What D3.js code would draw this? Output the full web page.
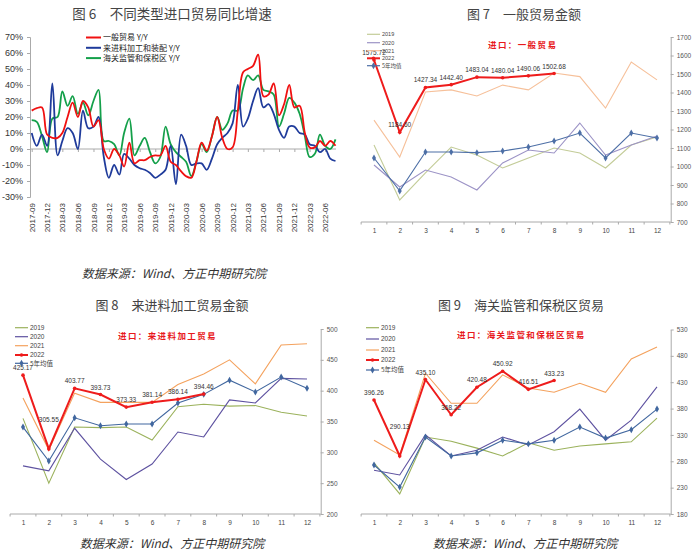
<!DOCTYPE html>
<html>
<head>
<meta charset="utf-8">
<script src="https://cdn.jsdelivr.net/npm/d3@7"></script>
<style>
  body { margin: 0; background: #fff; }
  svg { display: block; font-family: "Liberation Sans", Arial, sans-serif; }
  .cjk { font-family: "Noto Sans CJK SC", sans-serif; }
</style>
</head>
<body>
<svg id="chart" width="700" height="554"></svg>
<script>
// ---------- data: fig 6 (Y/Y %, monthly 2017-09 .. 2022-08)
const ticks6 = ["2017-09","2017-12","2018-03","2018-06","2018-09","2018-12","2019-03","2019-06","2019-09","2019-12",
  "2020-03","2020-06","2020-09","2020-12","2021-03","2021-06","2021-09","2021-12","2022-03","2022-06"];
const pctTicks = [-30, -20, -10, 0, 10, 20, 30, 40, 50, 60, 70];
const generalYoY = [24, 25.5, 26, 9, 7, 7, 10, 20, 29, 20,
  30, 26, 14, 18, 0, -6, 0, -4, -11, 4,
  -9, -7, -7, -5, -4, -4, 2, -8, -10, -14,
  -17, -18, -8, 4, -1, 8, 20, 7, 0, 1,
  24, 48, 50, 52, 59, 33, 34, 41, 21, 28,
  40, 26, 27, 10, 1, 1, 5, 2, 5, 2];
const processingYoY = [10, 2, 9, 2, 41, -4, 5, 13, 10, 0,
  24, 13, 14, 20, -5, -18, -10, -16, -3, -6,
  -10, -12, -13, -15, -18, -16, -13, 2, -22, 9,
  2, -10, -9, -9, -13, -6, 3, 7, 10, 16,
  40, 14, 19, 30, 38, 26, 28, 22, 12, 7,
  14, 14, 10, 9, 3, 2, -2, 0, -6, -7.5];
const bondedYoY = [18, 17, 8, -2, 19, 20, 36, 27, 33, 22,
  29, 21, 30, 37, 5, 5, 3, -4, 10, 19,
  -4, 2, 7, -2, -9, -5, 14, 3, -2, -5,
  -8, -17, -8, 3, -2, 8, 20, 12, 16, 24,
  24, 38, 46, 43, 46, 37, 36, 34, 14, 22,
  32, 29, 22, 8, -5, -3, 9, 2, 0, 6];
const legend6 = ["一般贸易 Y/Y", "来进料加工和装配  Y/Y", "海关监管和保税区  Y/Y"];

// ---------- data: fig 7-9 (monthly amounts)
const months = ["1","2","3","4","5","6","7","8","9","10","11","12"];
const seriesNames = ["2019", "2020", "2021", "2022", "5年均值"];

const gen2019 = [1116, 819, 965, 1105, 1062, 992, 1046, 1100, 1073, 992, 1116, 1160];
const gen2020 = [1008, 889, 981, 943, 873, 1019, 1089, 1073, 1235, 1062, 1116, 1165];
const gen2021 = [1251, 1051, 1403, 1414, 1381, 1440, 1414, 1505, 1486, 1316, 1565, 1468];
const gen2022 = [1575.72, 1184.60, 1427.34, 1442.40, 1483.04, 1480.04, 1490.06, 1502.68];
const genAvg  = [1046, 868, 1078, 1078, 1075, 1084, 1105, 1138, 1181, 1046, 1181, 1154];
const genTicks = [700, 800, 900, 1000, 1100, 1200, 1300, 1400, 1500, 1600, 1700];

const proc2019 = [355, 250, 341, 340, 341, 320, 374, 378, 375, 376, 365, 359];
const proc2020 = [278, 270, 339, 289, 256, 281, 333, 325, 385, 380, 420, 419];
const proc2021 = [388, 304, 396, 381, 381, 381, 410, 427, 450, 411, 474, 476];
const proc2022 = [425.17, 305.55, 403.77, 393.73, 373.33, 381.14, 386.14, 394.46];
const procAvg  = [341, 286, 356, 343, 346, 346, 380, 394, 417, 398, 422, 404];
const procTicks = [200, 250, 300, 350, 400, 450, 500];

const bond2019 = [277, 218, 326, 318, 305, 290, 315, 301, 309, 313, 317, 362];
const bond2020 = [263, 254, 330, 290, 301, 326, 311, 336, 379, 320, 358, 421];
const bond2021 = [320, 292, 447, 390, 390, 444, 419, 411, 428, 411, 474, 497];
const bond2022 = [396.26, 290.13, 435.10, 368.22, 420.48, 450.92, 416.51, 433.23];
const bondAvg  = [273, 231, 326, 290, 296, 320, 313, 320, 345, 324, 340, 379];
const bondTicks = [180, 230, 280, 330, 380, 430, 480, 530];

const sourceText = "数据来源：Wind、方正中期研究院";

const svg = d3.select("#chart");

// ---------- fig 6
const parseM = d3.timeParse("%Y-%m");
const months6 = d3.timeMonth.range(parseM("2017-09"), parseM("2022-09"));
const x6 = d3.scaleTime().domain([parseM("2017-09"), parseM("2022-08")]).range([31.7, 335.5]);
const y6 = d3.scaleLinear().domain([-30, 70]).range([197, 37]);
const g6 = svg.append("g");

g6.append("text").attr("class", "cjk").attr("x", 172).attr("y", 19)
  .attr("text-anchor", "middle").attr("font-size", 13.5).attr("fill", "#444")
  .text("图 6　不同类型进口贸易同比增速");

const ya6 = g6.append("g").attr("transform", "translate(30,0)")
  .call(d3.axisLeft(y6).tickValues(pctTicks).tickFormat(d => d + "%").tickSize(3).tickPadding(4));
ya6.selectAll("path,line").attr("stroke", "#aaa");
ya6.selectAll("text").attr("font-size", 9).attr("fill", "#333");

const tickDates = ticks6.map(parseM);
const xa6 = g6.append("g").attr("transform", `translate(0,${y6(0)})`)
  .call(d3.axisBottom(x6).tickValues(tickDates).tickSize(3).tickSizeOuter(0).tickFormat(""));
xa6.select(".domain").attr("d", `M30,0H336`);
xa6.selectAll("path,line").attr("stroke", "#aaa");

const xl6 = g6.append("g").attr("transform", "translate(0,203)")
  .call(d3.axisBottom(x6).tickValues(tickDates).tickSize(0).tickFormat(d3.timeFormat("%Y-%m")));
xl6.select(".domain").remove();
xl6.selectAll("text").attr("x", 0).attr("y", 0).attr("dy", "0.32em")
  .attr("transform", "rotate(-90)").style("text-anchor", "end")
  .attr("font-size", 8).attr("fill", "#333");

const yoySeries = [
  { vals: generalYoY, color: "#f01010" },
  { vals: processingYoY, color: "#1f3b9b" },
  { vals: bondedYoY, color: "#14a04a" }
];
const line6 = d3.line().x((d, i) => x6(months6[i])).y(d => y6(d)).curve(d3.curveCatmullRom.alpha(0.5));
[yoySeries[2], yoySeries[1], yoySeries[0]].forEach(s => {
  g6.append("path").datum(s.vals).attr("d", line6).attr("fill", "none")
    .attr("stroke", s.color).attr("stroke-width", 1.8);
});

legend6.forEach((t, i) => {
  const yy = 37.5 + i * 10.3;
  g6.append("line").attr("x1", 86).attr("x2", 101).attr("y1", yy).attr("y2", yy)
    .attr("stroke", yoySeries[i].color).attr("stroke-width", 2);
  g6.append("text").attr("class", "cjk").attr("x", 103).attr("y", yy).attr("dy", "0.35em")
    .attr("font-size", 8).attr("fill", "#222").text(t);
});

g6.append("text").attr("class", "cjk").attr("x", 174).attr("y", 278)
  .attr("text-anchor", "middle").attr("font-size", 12).attr("font-style", "italic")
  .attr("fill", "#333").text(sourceText);

// ---------- fig 7-9 panels
function panel(o) {
  const g = svg.append("g");
  const x = d3.scalePoint().domain(months).range(o.xRange);
  const step = x.step();
  const y = d3.scaleLinear().domain(o.yDomain).range(o.yRange);
  const base = o.yRange[0];
  const left = o.xRange[0] - step / 2;

  g.append("text").attr("class", "cjk").attr("x", o.titleX).attr("y", o.titleY)
    .attr("text-anchor", "middle").attr("font-size", 13).attr("fill", "#444").text(o.title);
  g.append("text").attr("class", "cjk").attr("x", o.subX).attr("y", o.subY)
    .attr("font-size", 8.5).attr("font-weight", "bold").attr("letter-spacing", 1.4)
    .attr("fill", "#e8191c").text(o.sub);

  // x axis
  const xa = g.append("g").attr("transform", `translate(0,${base})`)
    .call(d3.axisBottom(x).tickSize(0).tickPadding(6));
  xa.select(".domain").attr("d", `M${left},0H${o.axisX}`).attr("stroke", "#aaa");
  xa.selectAll("text").attr("font-size", 6.5).attr("fill", "#444");
  d3.range(months.length + 1).forEach(b => {
    const bx = left + b * step;
    g.append("line").attr("x1", bx).attr("x2", bx).attr("y1", base).attr("y2", base + 2.5)
      .attr("stroke", "#aaa");
  });

  // right axis
  const ya = g.append("g").attr("transform", `translate(${o.axisX},0)`)
    .call(d3.axisRight(y).tickValues(o.yTicks).tickFormat(d3.format("d"))
      .tickSize(3).tickPadding(3).tickSizeOuter(0));
  ya.selectAll("path,line").attr("stroke", "#aaa");
  ya.selectAll("text").attr("font-size", 6.5).attr("fill", "#555");

  const line = d3.line().x((d, i) => x(months[i])).y(d => y(d));
  const cols = o.colors;
  const order = [0, 1, 2, 4, 3];
  const data = [o.s2019, o.s2020, o.s2021, o.s2022, o.avg];
  order.forEach(k => {
    g.append("path").datum(data[k]).attr("d", line).attr("fill", "none")
      .attr("stroke", cols[k]).attr("stroke-width", k === 3 ? 2 : 1.1);
    if (k === 4) {
      g.selectAll(null).data(data[k]).enter().append("path")
        .attr("d", d3.symbol(d3.symbolDiamond, 14))
        .attr("transform", (d, i) => `translate(${x(months[i])},${y(d)})`)
        .attr("fill", cols[k]);
    }
    if (k === 3) {
      g.selectAll(null).data(data[k]).enter().append("circle")
        .attr("cx", (d, i) => x(months[i])).attr("cy", d => y(d)).attr("r", 1.8)
        .attr("fill", cols[k]);
      g.selectAll(null).data(data[k]).enter().append("text")
        .attr("x", (d, i) => x(months[i]))
        .attr("y", (d, i) => y(d) - 5 - (o.labelLift[i] || 0))
        .attr("text-anchor", "middle").attr("font-size", 6.5).attr("fill", "#333")
        .text(d => d.toFixed(2));
    }
  });

  // legend
  seriesNames.forEach((n, i) => {
    const yy = o.legendY[i];
    g.append("line").attr("x1", o.legendX).attr("x2", o.legendX + o.legendW).attr("y1", yy).attr("y2", yy)
      .attr("stroke", cols[i]).attr("stroke-width", i === 3 ? 2 : 1.2);
    if (i === 3) {
      g.append("circle").attr("cx", o.legendX + o.legendW / 2).attr("cy", yy).attr("r", 1.8).attr("fill", cols[i]);
    }
    if (i === 4) {
      g.append("path").attr("d", d3.symbol(d3.symbolDiamond, 14))
        .attr("transform", `translate(${o.legendX + o.legendW / 2},${yy})`).attr("fill", cols[i]);
    }
    g.append("text").attr("class", i === 4 ? "cjk" : null)
      .attr("x", o.legendX + o.legendW + 2).attr("y", yy).attr("dy", "0.35em")
      .attr("font-size", o.legendFont).attr("fill", "#444").text(n);
  });

  if (o.source) {
    g.append("text").attr("class", "cjk").attr("x", o.source[0]).attr("y", o.source[1])
      .attr("text-anchor", "middle").attr("font-size", 12).attr("font-style", "italic")
      .attr("fill", "#333").text(sourceText);
  }
}

panel({
  title: "图 7　一般贸易金额", titleX: 524, titleY: 19,
  sub: "进口：一般贸易", subX: 488, subY: 47.5,
  xRange: [374, 657], yDomain: [700, 1700], yRange: [222, 37], yTicks: genTicks, axisX: 670.7,
  s2019: gen2019, s2020: gen2020, s2021: gen2021, s2022: gen2022, avg: genAvg,
  colors: ["#c3cc98", "#9c93c6", "#f6c09a", "#ee1c1c", "#4d6fa6"],
  legendX: 367, legendW: 13, legendY: [34.3, 42.7, 50.7, 58.3, 65.7], legendFont: 5.5,
  labelLift: []
});

panel({
  title: "图 8　来进料加工贸易金额", titleX: 172, titleY: 310,
  sub: "进口：来进料加工贸易", subX: 118, subY: 338.5,
  xRange: [23, 307], yDomain: [200, 500], yRange: [514, 329], yTicks: procTicks, axisX: 320.7,
  s2019: proc2019, s2020: proc2020, s2021: proc2021, s2022: proc2022, avg: procAvg,
  colors: ["#9bb25c", "#5e52a0", "#f4a25e", "#ee1c1c", "#41679f"],
  legendX: 15, legendW: 13, legendY: [327.7, 336.7, 345.7, 355, 363.3], legendFont: 6.5,
  labelLift: [0, 22],
  source: [172, 548]
});

panel({
  title: "图 9　海关监管和保税区贸易", titleX: 521, titleY: 310,
  sub: "进口：海关监管和保税区贸易", subX: 457, subY: 337.5,
  xRange: [374, 657], yDomain: [180, 530], yRange: [514, 329.5], yTicks: bondTicks, axisX: 670.7,
  s2019: bond2019, s2020: bond2020, s2021: bond2021, s2022: bond2022, avg: bondAvg,
  colors: ["#9bb25c", "#5e52a0", "#f4a25e", "#ee1c1c", "#41679f"],
  legendX: 366, legendW: 13, legendY: [327.7, 339, 350, 360, 370], legendFont: 6.5,
  labelLift: [0, 22],
  source: [525, 548]
});
</script>
</body>
</html>
